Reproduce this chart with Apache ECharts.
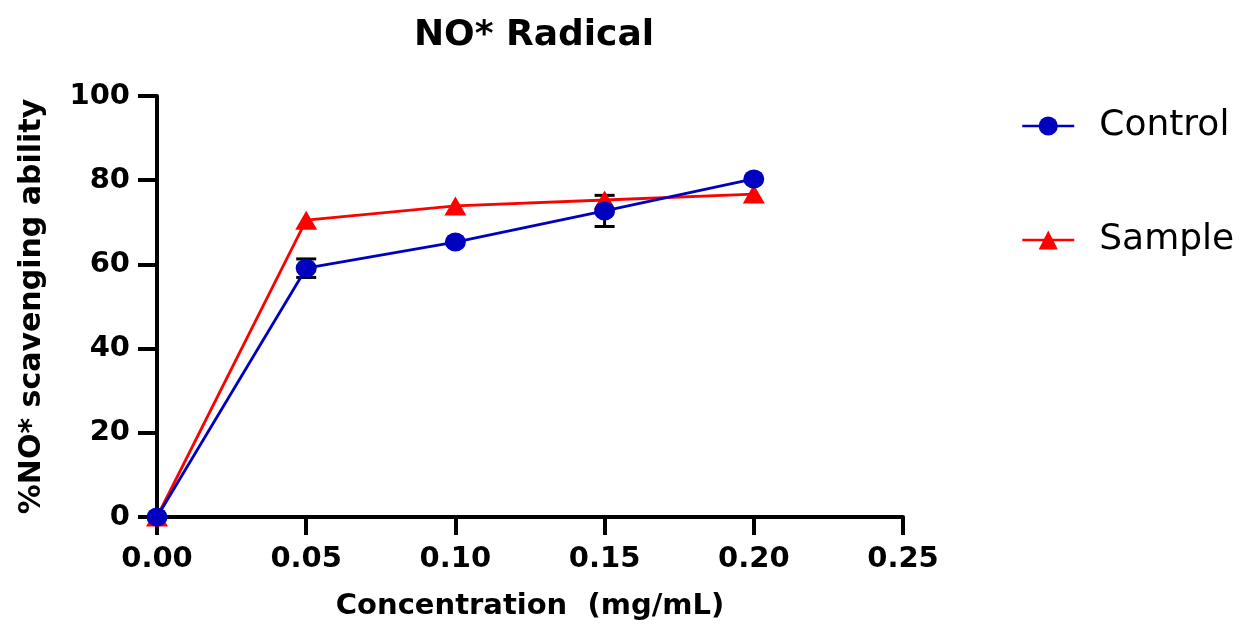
<!DOCTYPE html>
<html>
<head>
    <meta charset="utf-8">
    <title>NO* Radical</title>
    <script src="https://cdn.jsdelivr.net/npm/echarts@6/dist/echarts.min.js"></script>
    <style>
        html, body { margin: 0; padding: 0; background: #fff; }
        #chart { width: 1242px; height: 624px; }
    </style>
</head>
<body>
    <div id="chart"></div>
    <script>
        var concentrations = [0, 0.05, 0.10, 0.15, 0.20];
        var controlValues = [0, 59.1, 65.3, 72.7, 80.3];
        var controlErrors = [0, 2.2, 0, 3.7, 0];
        var sampleValues = [0, 70.5, 73.9, 75.3, 76.7];
        var xTicks = [0, 0.05, 0.10, 0.15, 0.20, 0.25];
        var yTicks = [0, 20, 40, 60, 80, 100];

        var font = 'DejaVu Sans';
        var chart = echarts.init(document.getElementById('chart'));

        var pairs = function (xs, ys) {
            return xs.map(function (x, i) { return [x, ys[i]]; });
        };
        // error bars only where there is a spread
        var errData = concentrations.map(function (x, i) {
            return [x, controlValues[i] - controlErrors[i], controlValues[i] + controlErrors[i]];
        }).filter(function (d, i) { return controlErrors[i] > 0; });

        var option = {
            animation: false,
            title: {
                text: 'NO* Radical',
                left: 529,
                top: 13,
                textAlign: 'center',
                textStyle: { fontFamily: font, fontWeight: 'bold', fontSize: 36, color: '#000' }
            },
            legend: {
                orient: 'vertical',
                left: 1016,
                top: 99,
                itemWidth: 52,
                itemHeight: 24,
                itemGap: 70,
                data: ['Control', 'Sample'],
                lineStyle: { width: 2.5 },
                textStyle: { fontFamily: font, fontSize: 36, color: '#000', lineHeight: 44, padding: [0, 0, 0, 20] }
            },
            grid: { left: 157, right: 339, top: 96, bottom: 107, containLabel: false, outerBoundsMode: 'none' },
            xAxis: {
                type: 'value',
                min: xTicks[0],
                max: xTicks[xTicks.length - 1],
                interval: 0.05,
                name: 'Concentration  (mg/mL)',
                nameLocation: 'middle',
                nameGap: 75,
                nameTextStyle: { fontFamily: font, fontWeight: 'bold', fontSize: 29, color: '#000' },
                splitLine: { show: false },
                axisLine: { lineStyle: { color: '#000', width: 4 } },
                axisTick: { length: 18, lineStyle: { color: '#000', width: 4 } },
                axisLabel: {
                    margin: 28,
                    fontFamily: font, fontWeight: 'bold', fontSize: 29, color: '#000',
                    formatter: function (v) { return v.toFixed(2); }
                }
            },
            yAxis: {
                type: 'value',
                min: yTicks[0],
                max: yTicks[yTicks.length - 1],
                interval: 20,
                name: '%NO* scavenging ability',
                nameLocation: 'middle',
                nameGap: 110,
                nameTextStyle: { fontFamily: font, fontWeight: 'bold', fontSize: 30, color: '#000' },
                splitLine: { show: false },
                axisLine: { show: true, lineStyle: { color: '#000', width: 4 } },
                axisTick: { show: true, length: 19, lineStyle: { color: '#000', width: 4 } },
                axisLabel: { margin: 27, fontFamily: font, fontWeight: 'bold', fontSize: 29, color: '#000' }
            },
            series: [
                {
                    name: 'Control error',
                    type: 'custom',
                    z: 1,
                    data: errData,
                    renderItem: function (params, api) {
                        var lo = api.coord([api.value(0), api.value(1)]);
                        var hi = api.coord([api.value(0), api.value(2)]);
                        var hw = 10;
                        var st = { stroke: '#000', lineWidth: 3 };
                        return {
                            type: 'group',
                            children: [
                                { type: 'line', shape: { x1: lo[0], y1: lo[1], x2: hi[0], y2: hi[1] }, style: st },
                                { type: 'line', shape: { x1: lo[0] - hw, y1: lo[1], x2: lo[0] + hw, y2: lo[1] }, style: st },
                                { type: 'line', shape: { x1: hi[0] - hw, y1: hi[1], x2: hi[0] + hw, y2: hi[1] }, style: st }
                            ]
                        };
                    }
                },
                {
                    name: 'Sample',
                    type: 'line',
                    z: 2,
                    data: pairs(concentrations, sampleValues),
                    symbol: 'triangle',
                    symbolSize: [22, 19],
                    color: '#FF0000',
                    lineStyle: { color: '#FF0000', width: 2.8 },
                    itemStyle: { color: '#FF0000' }
                },
                {
                    name: 'Control',
                    type: 'line',
                    z: 3,
                    data: pairs(concentrations, controlValues),
                    symbol: 'circle',
                    symbolSize: [21, 19],
                    color: '#0000BF',
                    lineStyle: { color: '#0000BF', width: 2.8 },
                    itemStyle: { color: '#0000BF' }
                }
            ]
        };

        chart.setOption(option);
    </script>
</body>
</html>
